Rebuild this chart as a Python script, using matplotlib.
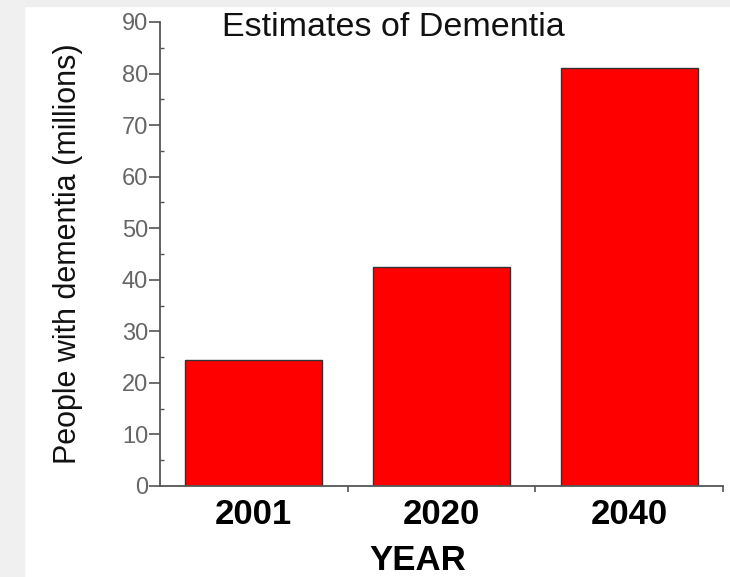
import matplotlib
matplotlib.use("Agg")
import matplotlib.pyplot as plt
from matplotlib.ticker import MultipleLocator, FixedLocator, NullFormatter

years = ["2001", "2020", "2040"]
people_millions = [24.5, 42.5, 81.0]
title = "Estimates of Dementia"
ylabel = "People with dementia (millions)"
xlabel = "YEAR"

plt.rcParams['font.family'] = ['Liberation Sans', 'DejaVu Sans']

fig = plt.figure(figsize=(7.3, 5.77), dpi=100)
# faint gray background areas as in the reference
fig.patches.append(plt.Rectangle((0, 1 - 6/577), 1, 6/577, transform=fig.transFigure,
                                 color='#eeeeee', zorder=-10))
fig.patches.append(plt.Rectangle((0, 0), 24/730, 1, transform=fig.transFigure,
                                 color='#f0f0f0', zorder=-10))

ax = fig.add_axes([160/730, 1-486/577, (723-160)/730, (486-22)/577])
x = list(range(len(years)))
ax.bar(x, people_millions, width=0.73, color='#ff0000', edgecolor='#333333', linewidth=1.0)

ax.set_xlim(-0.5, 2.5)
ax.set_ylim(0, 90)
for s in ['top', 'right']:
    ax.spines[s].set_visible(False)
for s in ['left', 'bottom']:
    ax.spines[s].set_color('#555555')
    ax.spines[s].set_linewidth(1.3)

ax.yaxis.set_major_locator(MultipleLocator(10))
ax.yaxis.set_minor_locator(MultipleLocator(5))
ax.tick_params(axis='y', which='major', direction='out', length=8, width=1.2,
               color='#555555', labelcolor='#666666', labelsize=17, pad=0.5)
ax.tick_params(axis='y', which='minor', direction='in', length=3, width=1.0, color='#555555')

ax.set_xticks(x)
ax.set_xticklabels(years, fontsize=25, fontweight='bold')
ax.tick_params(axis='x', which='major', length=0, pad=9)
ax.xaxis.set_minor_locator(FixedLocator([0.5, 1.5, 2.5]))
ax.xaxis.set_minor_formatter(NullFormatter())
ax.tick_params(axis='x', which='minor', direction='out', length=4, width=1.2, color='#555555')

fig.text(393/730, 1-27/577, title, fontsize=24.5, ha='center', va='center', color='#111111')
fig.text(418/730, 1-560/577, xlabel, fontsize=25, fontweight='bold', ha='center', va='center')
fig.text(68/730, 1-254/577, ylabel, fontsize=22, rotation=90, ha='center', va='center', color='#111111')

fig.savefig("out.png", dpi=100)
